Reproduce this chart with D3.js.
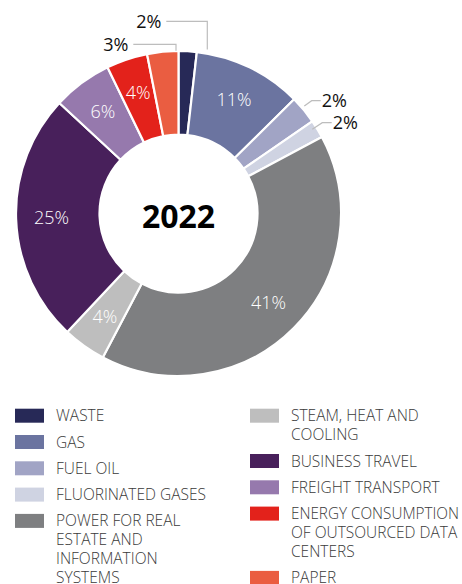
<!DOCTYPE html>
<html>
<head>
<meta charset="utf-8">
<script src="https://cdn.jsdelivr.net/npm/d3@7"></script>
<style>
  body { margin: 0; background: #fff; }
  svg { display: block; font-family: "Open Sans", sans-serif; }
</style>
</head>
<body>
<svg id="chart" width="462" height="584"></svg>
<script>
// categories, clockwise from 12 o'clock
var categories = ["WASTE", "GAS", "FUEL OIL", "FLUORINATED GASES",
  "POWER FOR REAL\nESTATE AND\nINFORMATION\nSYSTEMS",
  "STEAM, HEAT AND\nCOOLING", "BUSINESS TRAVEL", "FREIGHT TRANSPORT",
  "ENERGY CONSUMPTION\nOF OUTSOURCED DATA\nCENTERS", "PAPER"];
// share of emissions
var shares = [1.8, 10.8, 2.8, 1.8, 40.5, 4.3, 24.9, 5.9, 4.1, 3.1];
// printed percentages
var shareLabels = ["2%", "11%", "2%", "2%", "41%", "4%", "25%", "6%", "4%", "3%"];
var colors = ["#272957", "#6b74a0", "#a1a4c5", "#cfd3e2", "#7e7f81",
  "#bebebe", "#48205b", "#9679ad", "#e3221b", "#ea5d41"];
var year = "2022";

var cx = 178.5, cy = 213.5, rOuter = 162.5, rInner = 79;

var svg = d3.select("#chart");
var g = svg.append("g").attr("transform", "translate(" + cx + "," + cy + ")");

var pie = d3.pie().sort(null).value(function(d) { return d; });
var arcs = pie(shares);

var arc = d3.arc().innerRadius(rInner).outerRadius(rOuter);
var labelArc = d3.arc().innerRadius(127).outerRadius(127);

g.selectAll("path.slice")
  .data(arcs)
  .enter().append("path")
  .attr("class", "slice")
  .attr("d", arc)
  .attr("fill", function(d, i) { return colors[i]; })
  .attr("stroke", "#fff")
  .attr("stroke-width", 2.2)
  .attr("stroke-linejoin", "miter");

// labels drawn inside the ring
var inside = [1, 4, 5, 6, 7, 8];
g.selectAll("text.in")
  .data(inside)
  .enter().append("text")
  .attr("class", "in")
  .attr("transform", function(i) { return "translate(" + labelArc.centroid(arcs[i]) + ")"; })
  .attr("text-anchor", "middle")
  .attr("dy", "0.35em")
  .attr("fill", "#fff")
  .attr("font-size", 18)
  .attr("font-weight", 300)
  .text(function(i) { return shareLabels[i]; });

// callouts for small slices: leader points relative to centre, text side
var callouts = [
  { i: 0, pts: [[28.8, -164], [28.8, -192.2], [-12.2, -192.2]], side: "left" },
  { i: 9, pts: [[-2.5, -162.8], [-2.5, -169.2], [-45.2, -169.2]], side: "left" },
  { i: 2, pts: [[125.8, -107.5], [133.2, -112.8], [142.2, -112.8]], side: "right" },
  { i: 3, pts: [[133.8, -84.2], [143.8, -90.8], [153.2, -90.8]], side: "right" }
];

g.selectAll("polyline.lead")
  .data(callouts)
  .enter().append("polyline")
  .attr("class", "lead")
  .attr("points", function(d) { return d.pts.map(function(p) { return p.join(","); }).join(" "); })
  .attr("fill", "none")
  .attr("stroke", "#bdbdbd")
  .attr("stroke-width", 1.2);

g.selectAll("text.out")
  .data(callouts)
  .enter().append("text")
  .attr("class", "out")
  .attr("x", function(d) { var p = d.pts[2]; return d.side === "left" ? p[0] - 5 : p[0] + 1; })
  .attr("y", function(d) { return d.pts[2][1]; })
  .attr("dy", "0.36em")
  .attr("text-anchor", function(d) { return d.side === "left" ? "end" : "start"; })
  .attr("fill", "#111")
  .attr("font-size", 18)
  .text(function(d) { return shareLabels[d.i]; });

g.append("text")
  .attr("text-anchor", "middle")
  .attr("y", 2.5)
  .attr("dy", "0.36em")
  .attr("font-size", 32)
  .attr("font-weight", 700)
  .attr("fill", "#000")
  .text(year);

// legend: two columns
var legendCols = [[0, 1, 2, 3, 4], [5, 6, 7, 8, 9]];
var colX = [15, 250], lineH = 19, rowGap = 26.3, legendTop = 415.7;
var maxTextW = 168;

legendCols.forEach(function(col, c) {
  var y = legendTop;
  col.forEach(function(i) {
    var lines = categories[i].split("\n");
    var item = svg.append("g").attr("transform", "translate(" + colX[c] + "," + y + ")");
    item.append("rect")
      .attr("x", 0).attr("y", -7)
      .attr("width", 29).attr("height", 14)
      .attr("fill", colors[i]);
    var t = item.append("text")
      .attr("x", 41)
      .attr("font-size", 15.5)
      .attr("font-weight", 300)
      .attr("fill", "#3a3a3a");
    lines.forEach(function(l, k) {
      var ts = t.append("tspan").attr("x", 41).attr("y", k * lineH).attr("dy", "0.36em").text(l);
      // squeeze lines that would run past the page edge
      if (ts.node().getComputedTextLength() > maxTextW) {
        ts.attr("textLength", maxTextW).attr("lengthAdjust", "spacingAndGlyphs");
      }
    });
    y += (lines.length - 1) * lineH + rowGap;
  });
});
</script>
</body>
</html>
